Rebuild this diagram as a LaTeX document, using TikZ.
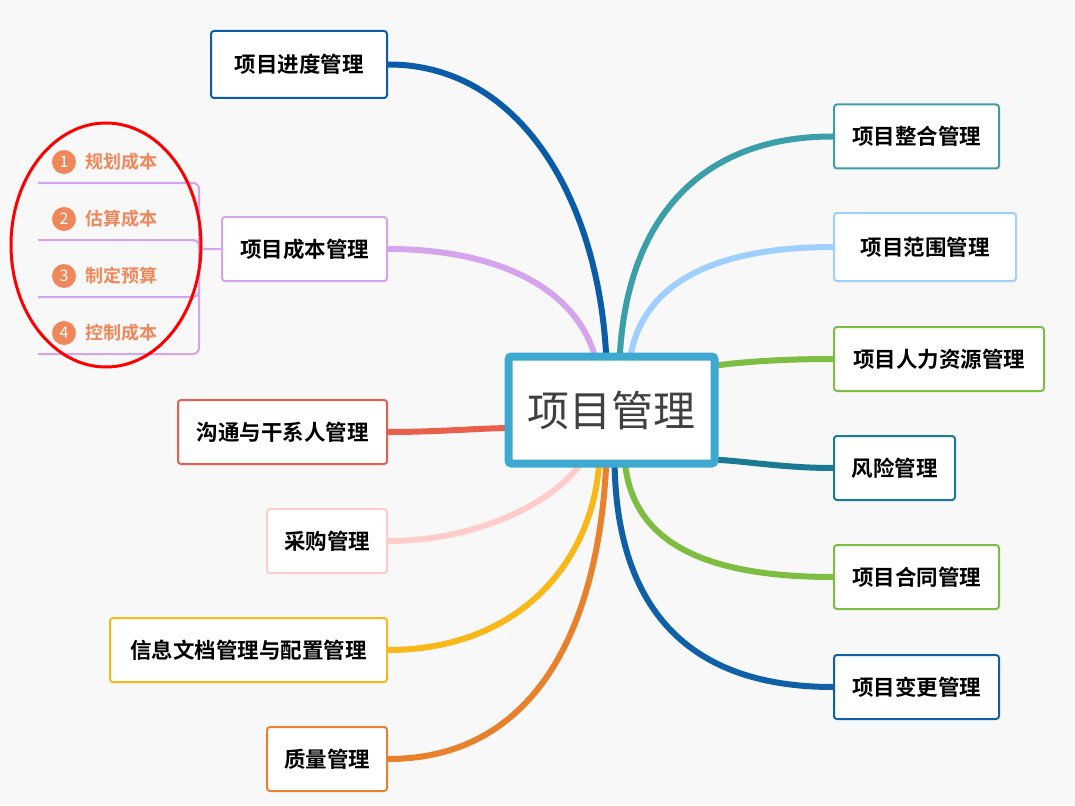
\documentclass[tikz,border=0pt]{standalone}
\usepackage{fontspec}
\setmainfont{Noto Sans CJK SC}
\newfontfamily\cjkb{Noto Sans CJK SC Bold}
\usetikzlibrary{calc,shapes.geometric}
\pgfdeclarelayer{back}\pgfdeclarelayer{curves}
\pgfsetlayers{back,curves,main}
\definecolor{bgc}{HTML}{F8F8F8}
\definecolor{cblue}{HTML}{3DA9D0}
\definecolor{c1}{HTML}{3A9FA8}
\definecolor{c2}{HTML}{9ECFFF}
\definecolor{c3}{HTML}{7DBD42}
\definecolor{c4}{HTML}{1B7A93}
\definecolor{c6}{HTML}{1060A8}
\definecolor{l1}{HTML}{0B5CA8}
\definecolor{l2}{HTML}{D4A5EC}
\definecolor{l3}{HTML}{E8604C}
\definecolor{l4}{HTML}{FFCCCC}
\definecolor{l5}{HTML}{F8B818}
\definecolor{l6}{HTML}{E8812C}
\definecolor{sub}{HTML}{F0875A}
\tikzset{
 topic/.style={draw=#1,line width=2pt,rounded corners=3pt,fill=white,minimum height=64pt,inner xsep=0pt,font=\cjkb\fontsize{21.5}{21.5}\selectfont,text=black},
 br/.style={draw=#1,line width=6pt},
 num/.style={circle,fill=sub,text=white,minimum size=24pt,inner sep=0pt,font=\fontsize{16}{16}\selectfont},
 subt/.style={text=sub,font=\cjkb\fontsize{18}{18}\selectfont,anchor=west,inner xsep=0pt},
}
\begin{document}
\begin{tikzpicture}[x=1pt,y=-1pt]
\begin{pgfonlayer}{back}
\fill[bgc] (0,0) rectangle (1075,805);
\end{pgfonlayer}
\useasboundingbox (0,0) rectangle (1075,805);
\node[draw=cblue,line width=8pt,rounded corners=3pt,fill=white,minimum width=206pt,minimum height=107pt,font=\fontsize{42}{42}\selectfont,text=black!75] (c) at (611.5,410) {项目管理};
% right
\node[topic=c1,minimum width=165pt,anchor=west] (r1) at (833,136.5) {项目整合管理};
\node[topic=c2,minimum width=182pt,minimum height=68pt,anchor=west] (r2) at (833,247) {项目范围管理};
\node[topic=c3,minimum width=210pt,anchor=west] (r3) at (833,359) {项目人力资源管理};
\node[topic=c4,minimum width=121pt,anchor=west] (r4) at (833,468) {风险管理};
\node[topic=c3,minimum width=165pt,anchor=west] (r5) at (833,577) {项目合同管理};
\node[topic=c6,minimum width=165pt,anchor=west] (r6) at (833,687) {项目变更管理};
% left
\node[topic=l1,minimum width=176pt,minimum height=67pt,anchor=east] (q1) at (388,64.5) {项目进度管理};
\node[topic=l2,minimum width=165pt,anchor=east] (q2) at (388,249) {项目成本管理};
\node[topic=l3,minimum width=209pt,anchor=east] (q3) at (388,432) {沟通与干系人管理};
\node[topic=l4,minimum width=120pt,anchor=east] (q4) at (388,541) {采购管理};
\node[topic=l5,minimum width=277pt,anchor=east] (q5) at (388,650) {信息文档管理与配置管理};
\node[topic=l6,minimum width=120pt,anchor=east] (q6) at (388,759) {质量管理};
\begin{pgfonlayer}{curves}
\draw[br=c1] (r1.west) .. controls (700,136) and (625,220) .. ($(c.north west)+(115,10)$);
\draw[br=c2] (r2.west) .. controls (720,247) and (640,280) .. ($(c.north west)+(125,10)$);
\draw[br=c3] (r3.west) .. controls (780,359) and (740,362) .. ($(c.north east)+(-10,14)$);
\draw[br=c4] (r4.west) .. controls (780,468) and (740,460) .. ($(c.south east)+(-10,-8)$);
\draw[br=c3] (r5.west) .. controls (700,577) and (630,540) .. ($(c.south west)+(120,-10)$);
\draw[br=c6] (r6.west) .. controls (680,687) and (615,600) .. ($(c.south west)+(110,-10)$);
\draw[br=l1] (q1.east) .. controls (520,64) and (600,200) .. ($(c.north west)+(102,10)$);
\draw[br=l2] (q2.east) .. controls (500,249) and (580,290) .. ($(c.north west)+(92,10)$);
\draw[br=l3] (q3.east) .. controls (440,432) and (480,428) .. ($(c.west)+(10,18)$);
\draw[br=l4] (q4.east) .. controls (480,541) and (560,500) .. ($(c.south west)+(80,-10)$);
\draw[br=l5] (q5.east) .. controls (520,650) and (595,560) .. ($(c.south west)+(95,-10)$);
\draw[br=l6] (q6.east) .. controls (540,759) and (600,620) .. ($(c.south west)+(102,-10)$);
\end{pgfonlayer}
% subtopics
\foreach \i/\t/\y in {1/规划成本/162,2/估算成本/219,3/制定预算/276,4/控制成本/333}{
 \node[num] (n\i) at (64,\y) {\i};
 \node[subt] (s\i) at (85,\y) {\t};
 \coordinate (u\i) at (38,\y+21);
}
\coordinate (j) at (199,249);
\draw[l2,line width=2pt,rounded corners=6pt]
 (u1) -- (u1 -| j) -- (j) -- (q2.west);
\draw[l2,line width=2pt,rounded corners=6pt] (u2) -- (u2 -| j) -- (j);
\draw[l2,line width=2pt,rounded corners=6pt] (u3) -- (u3 -| j) -- (j);
\draw[l2,line width=2pt,rounded corners=6pt] (u4) -- (u4 -| j) -- (j);
\node[draw=red,line width=3pt,ellipse,minimum width=190pt,minimum height=244pt] (e) at (106,245) {};
\end{tikzpicture}
\end{document}
